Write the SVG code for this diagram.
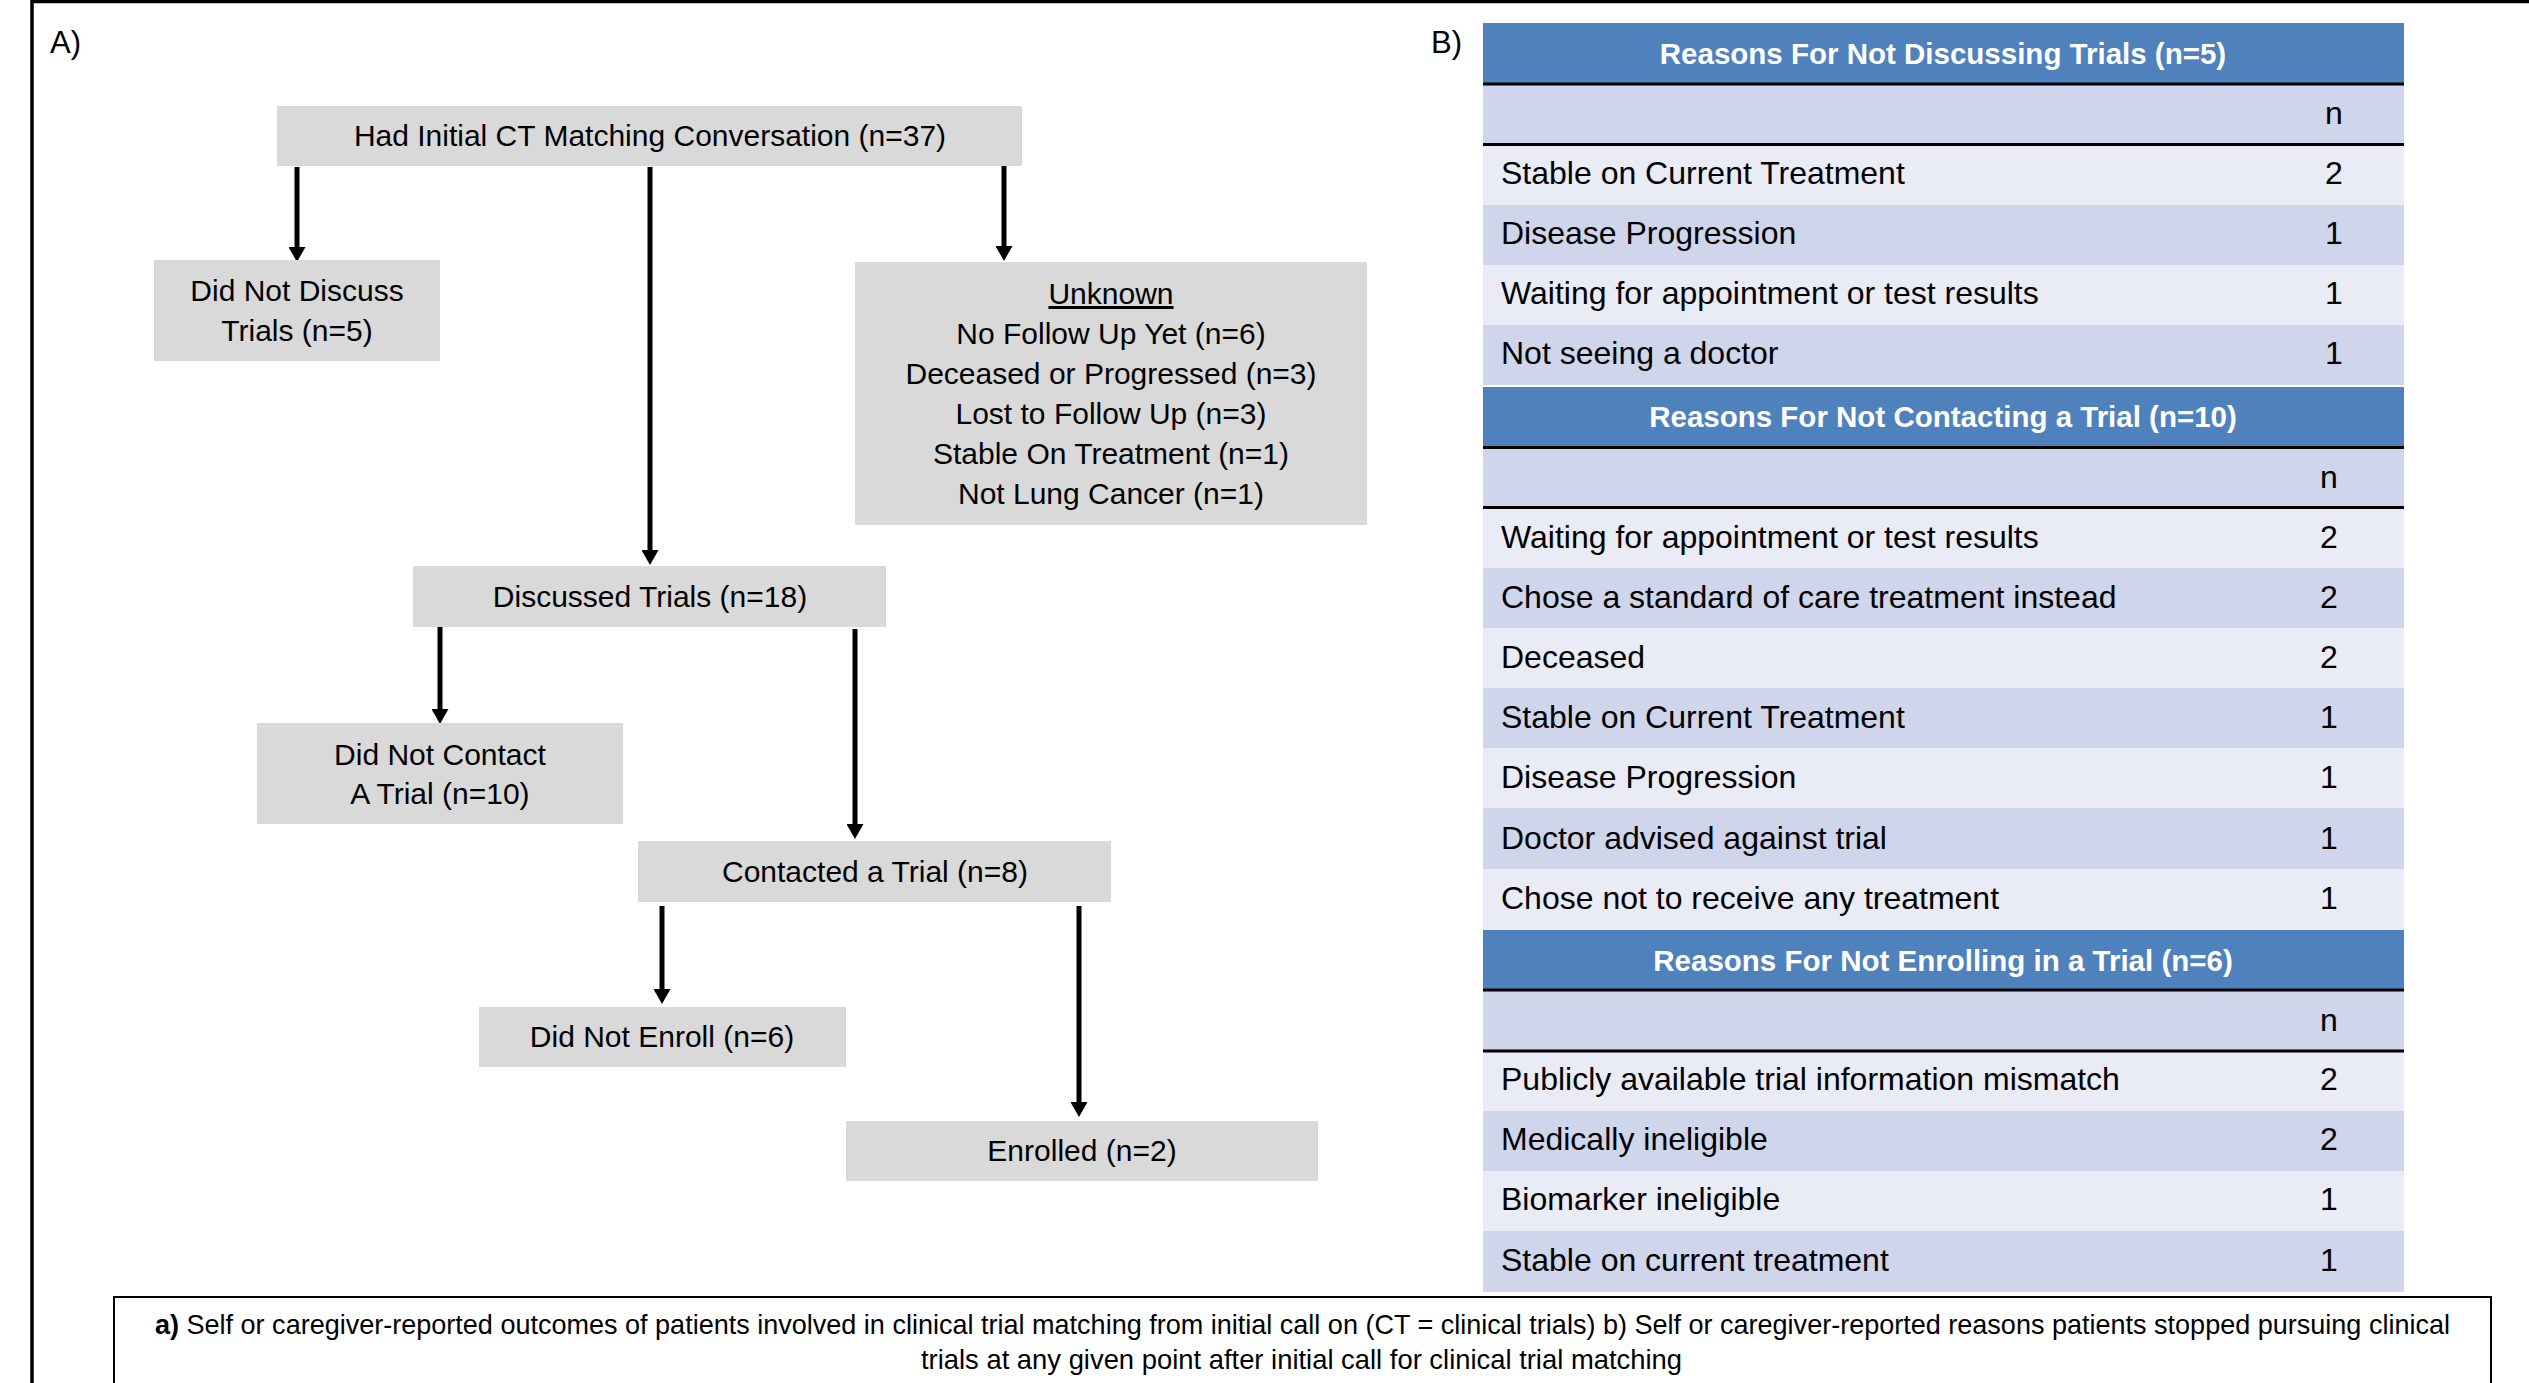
<svg xmlns="http://www.w3.org/2000/svg" width="2529" height="1383" viewBox="0 0 2529 1383">
<defs>
<style>
.t{font-family:"Liberation Sans",Arial,sans-serif;fill:#000}
.fc{font-size:30px;text-anchor:middle}
.box{fill:#D9D9D9}
.hdr{fill:#4F81BD}
.dk{fill:#CFD5EA}
.lt{fill:#E9EBF5}
.ht{font-family:"Liberation Sans",Arial,sans-serif;font-size:29.5px;font-weight:bold;fill:#fff;text-anchor:middle}
.bt{font-family:"Liberation Sans",Arial,sans-serif;font-size:32px;fill:#000}
.nt{text-anchor:middle}
.rule{stroke:#000;stroke-width:3}
.conn{stroke:#000;stroke-width:5;fill:none}
</style>
<marker id="ah" viewBox="0 0 15 17" refX="0" refY="8.5" markerWidth="15" markerHeight="17" markerUnits="userSpaceOnUse" orient="auto">
<path d="M0,0 L15,8.5 L0,17 Z" fill="#000"/>
</marker>
</defs>
<rect width="2529" height="1383" fill="#fff"/>
<path d="M32,1383 V1.5 H2529" fill="none" stroke="#000" stroke-width="3.5"/>
<text class="t" x="50" y="53" font-size="31">A)</text>
<text class="t" x="1431" y="53" font-size="31">B)</text>

<g id="connectors">
<path class="conn" d="M297,167 V247" marker-end="url(#ah)"/>
<path class="conn" d="M650,167 V550" marker-end="url(#ah)"/>
<path class="conn" d="M1004,165 V246" marker-end="url(#ah)"/>
<path class="conn" d="M440,627 V709" marker-end="url(#ah)"/>
<path class="conn" d="M855,629 V824" marker-end="url(#ah)"/>
<path class="conn" d="M662,906 V989" marker-end="url(#ah)"/>
<path class="conn" d="M1079,906 V1102" marker-end="url(#ah)"/>
</g>

<g id="node-initial">
<rect class="box" x="277" y="106" width="745" height="60"/>
<text class="t fc" x="650" y="146">Had Initial CT Matching Conversation (n=37)</text>
</g>
<g id="node-not-discuss">
<rect class="box" x="154" y="260" width="286" height="101"/>
<text class="t fc" x="297" y="301">Did Not Discuss</text>
<text class="t fc" x="297" y="341">Trials (n=5)</text>
</g>
<g id="node-unknown">
<rect class="box" x="855" y="262" width="512" height="263"/>
<text class="t fc" x="1111" y="304" text-decoration="underline">Unknown</text>
<text class="t fc" x="1111" y="344">No Follow Up Yet (n=6)</text>
<text class="t fc" x="1111" y="384">Deceased or Progressed (n=3)</text>
<text class="t fc" x="1111" y="424">Lost to Follow Up (n=3)</text>
<text class="t fc" x="1111" y="464">Stable On Treatment (n=1)</text>
<text class="t fc" x="1111" y="504">Not Lung Cancer (n=1)</text>
</g>
<g id="node-discussed">
<rect class="box" x="413" y="566" width="473" height="61"/>
<text class="t fc" x="650" y="607">Discussed Trials (n=18)</text>
</g>
<g id="node-not-contact">
<rect class="box" x="257" y="723" width="366" height="101"/>
<text class="t fc" x="440" y="765">Did Not Contact</text>
<text class="t fc" x="440" y="804">A Trial (n=10)</text>
</g>
<g id="node-contacted">
<rect class="box" x="638" y="841" width="473" height="61"/>
<text class="t fc" x="875" y="882">Contacted a Trial (n=8)</text>
</g>
<g id="node-not-enroll">
<rect class="box" x="479" y="1007" width="367" height="60"/>
<text class="t fc" x="662" y="1047">Did Not Enroll (n=6)</text>
</g>
<g id="node-enrolled">
<rect class="box" x="846" y="1121" width="472" height="60"/>
<text class="t fc" x="1082" y="1161">Enrolled (n=2)</text>
</g>

<g id="table-b">
<g id="sec1">
<rect class="hdr" x="1483" y="23" width="921" height="61"/>
<rect class="dk" x="1483" y="84" width="921" height="61"/>
<rect class="lt" x="1483" y="145" width="921" height="60"/>
<rect class="dk" x="1483" y="205" width="921" height="60"/>
<rect class="lt" x="1483" y="265" width="921" height="60"/>
<rect class="dk" x="1483" y="325" width="921" height="60"/>
<line class="rule" x1="1483" y1="84" x2="2404" y2="84"/>
<line class="rule" x1="1483" y1="144.5" x2="2404" y2="144.5"/>
<text class="ht" x="1943" y="64">Reasons For Not Discussing Trials (n=5)</text>
<text class="bt nt" x="2334" y="124">n</text>
<text class="bt" x="1501" y="184">Stable on Current Treatment</text><text class="bt nt" x="2334" y="184">2</text>
<text class="bt" x="1501" y="244">Disease Progression</text><text class="bt nt" x="2334" y="244">1</text>
<text class="bt" x="1501" y="304">Waiting for appointment or test results</text><text class="bt nt" x="2334" y="304">1</text>
<text class="bt" x="1501" y="364">Not seeing a doctor</text><text class="bt nt" x="2334" y="364">1</text>
</g>
<g id="sec2">
<rect class="hdr" x="1483" y="387" width="921" height="61"/>
<rect class="dk" x="1483" y="448" width="921" height="61"/>
<rect class="lt" x="1483" y="509" width="921" height="59"/>
<rect class="dk" x="1483" y="568" width="921" height="60"/>
<rect class="lt" x="1483" y="628" width="921" height="60"/>
<rect class="dk" x="1483" y="688" width="921" height="60"/>
<rect class="lt" x="1483" y="748" width="921" height="60"/>
<rect class="dk" x="1483" y="808" width="921" height="61"/>
<rect class="lt" x="1483" y="869" width="921" height="61"/>
<line class="rule" x1="1483" y1="447.5" x2="2404" y2="447.5"/>
<line class="rule" x1="1483" y1="507.5" x2="2404" y2="507.5"/>
<text class="ht" x="1943" y="427">Reasons For Not Contacting a Trial (n=10)</text>
<text class="bt nt" x="2329" y="488">n</text>
<text class="bt" x="1501" y="548">Waiting for appointment or test results</text><text class="bt nt" x="2329" y="548">2</text>
<text class="bt" x="1501" y="608">Chose a standard of care treatment instead</text><text class="bt nt" x="2329" y="608">2</text>
<text class="bt" x="1501" y="668">Deceased</text><text class="bt nt" x="2329" y="668">2</text>
<text class="bt" x="1501" y="728">Stable on Current Treatment</text><text class="bt nt" x="2329" y="728">1</text>
<text class="bt" x="1501" y="788">Disease Progression</text><text class="bt nt" x="2329" y="788">1</text>
<text class="bt" x="1501" y="849">Doctor advised against trial</text><text class="bt nt" x="2329" y="849">1</text>
<text class="bt" x="1501" y="909">Chose not to receive any treatment</text><text class="bt nt" x="2329" y="909">1</text>
</g>
<g id="sec3">
<rect class="hdr" x="1483" y="930" width="921" height="60"/>
<rect class="dk" x="1483" y="990" width="921" height="62"/>
<rect class="lt" x="1483" y="1052" width="921" height="59"/>
<rect class="dk" x="1483" y="1111" width="921" height="60"/>
<rect class="lt" x="1483" y="1171" width="921" height="60"/>
<rect class="dk" x="1483" y="1231" width="921" height="61"/>
<line class="rule" x1="1483" y1="990" x2="2404" y2="990"/>
<line class="rule" x1="1483" y1="1051" x2="2404" y2="1051"/>
<text class="ht" x="1943" y="971">Reasons For Not Enrolling in a Trial (n=6)</text>
<text class="bt nt" x="2329" y="1031">n</text>
<text class="bt" x="1501" y="1090">Publicly available trial information mismatch</text><text class="bt nt" x="2329" y="1090">2</text>
<text class="bt" x="1501" y="1150">Medically ineligible</text><text class="bt nt" x="2329" y="1150">2</text>
<text class="bt" x="1501" y="1210">Biomarker ineligible</text><text class="bt nt" x="2329" y="1210">1</text>
<text class="bt" x="1501" y="1271">Stable on current treatment</text><text class="bt nt" x="2329" y="1271">1</text>
</g>
</g>

<g id="caption">
<rect x="114" y="1297" width="2377" height="120" fill="#fff" stroke="#000" stroke-width="2"/>
<text class="t" x="155" y="1334" font-size="27.5" textLength="2295" lengthAdjust="spacingAndGlyphs"><tspan font-weight="bold">a)</tspan> Self or caregiver-reported outcomes of patients involved in clinical trial matching from initial call on (CT = clinical trials)  b) Self or caregiver-reported reasons patients stopped pursuing clinical</text>
<text class="t" x="921" y="1369" font-size="27.5" textLength="761" lengthAdjust="spacingAndGlyphs">trials at any given point after initial call for clinical trial matching</text>
</g>
</svg>
